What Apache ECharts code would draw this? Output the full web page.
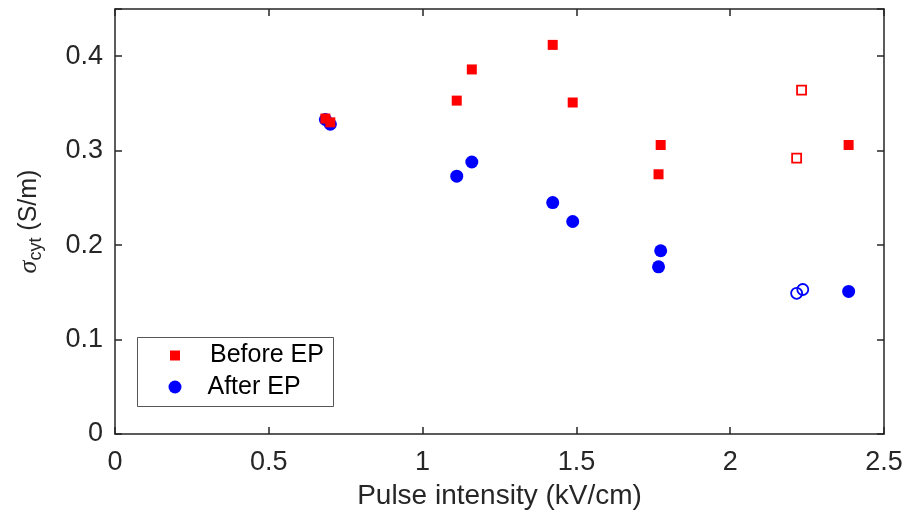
<!DOCTYPE html>
<html>
<head>
<meta charset="utf-8">
<script src="https://cdn.jsdelivr.net/npm/echarts@6/dist/echarts.min.js"></script>
<style>html,body{margin:0;padding:0;background:#fff;}#c{width:907px;height:515px;}</style>
</head>
<body>
<div id="c"></div>
<script>
// Data
const beforeFilled = [[0.684,0.334],[0.70,0.330],[1.111,0.353],[1.160,0.386],[1.423,0.412],[1.488,0.351],[1.774,0.306],[1.767,0.275],[2.385,0.306]];
const beforeOpen = [[2.216,0.292],[2.232,0.364]];
const afterFilled = [[0.684,0.333],[0.70,0.328],[1.111,0.273],[1.160,0.288],[1.423,0.245],[1.488,0.225],[1.774,0.194],[1.767,0.177],[2.385,0.151]];
const afterOpen = [[2.216,0.149],[2.236,0.153]];
const xTicks = {min:0, max:2.5, interval:0.5};
const yTicks = {min:0, max:0.45, interval:0.1, lastLabel:0.4};

const AX = '#262626';
const FONT = 'Liberation Sans, Arial, Helvetica, sans-serif';
const chart = echarts.init(document.getElementById('c'), null, {renderer:'canvas'});
const axisCommon = {
  axisLine:{show:true, onZero:false, lineStyle:{color:AX, width:1.5}},
  axisTick:{show:true, inside:true, length:7, lineStyle:{color:AX, width:1.5}},
  splitLine:{show:false}
};
const fmt = v => String(+v.toFixed(2));
chart.setOption({
  animation:false,
  backgroundColor:'#fff',
  textStyle:{fontFamily:FONT},
  grid:{left:115, right:23, top:9, bottom:80, containLabel:false},
  graphic:[{type:'rect', left:137, top:337, z:3, shape:{width:196, height:69}, style:{fill:'#fff', stroke:'#555', lineWidth:1}}],
  legend:[
    {data:[{name:'Before EP', icon:'rect', itemStyle:{color:'#ff0000'}}],
     left:170, top:343, padding:0, itemWidth:10, itemHeight:10, z:5,
     textStyle:{fontSize:25, color:'#000', fontFamily:FONT, padding:[0,0,0,25]}},
    {data:[{name:'After EP', icon:'circle', itemStyle:{color:'#0000ff'}}],
     left:168.5, top:374.5, padding:0, itemWidth:13, itemHeight:13, z:5,
     textStyle:{fontSize:25, color:'#000', fontFamily:FONT, padding:[0,0,0,21]}}
  ],
  xAxis:[
    Object.assign({type:'value', min:xTicks.min, max:xTicks.max, interval:xTicks.interval, position:'bottom',
      name:'Pulse intensity (kV/cm)', nameLocation:'middle', nameGap:48,
      nameTextStyle:{fontSize:28, color:AX, fontFamily:FONT},
      axisLabel:{fontSize:27, color:AX, margin:15, fontFamily:FONT, formatter:fmt}}, axisCommon),
    Object.assign({type:'value', min:xTicks.min, max:xTicks.max, interval:xTicks.interval, position:'top', axisLabel:{show:false}}, axisCommon)
  ],
  yAxis:[
    Object.assign({type:'value', min:yTicks.min, max:yTicks.max, interval:yTicks.interval, position:'left',
      name:'{s|σ}{sub|cyt} {n|(S/m)}', nameLocation:'middle', nameGap:70, nameRotate:90,
      nameTextStyle:{fontSize:25, color:AX, fontFamily:FONT, rich:{
        s:{fontSize:26, fontStyle:'italic', color:AX, fontFamily:'Liberation Serif, Times New Roman, serif'},
        sub:{fontSize:18, color:AX, fontFamily:FONT, padding:[14,0,0,0]},
        n:{fontSize:25, color:AX, fontFamily:FONT}
      }},
      axisLabel:{fontSize:27, color:AX, margin:12, fontFamily:FONT, formatter:v => v > yTicks.lastLabel + 1e-6 ? '' : fmt(v)}}, axisCommon),
    Object.assign({type:'value', min:yTicks.min, max:yTicks.max, interval:yTicks.interval, position:'right', axisLabel:{show:false}}, axisCommon)
  ],
  series:[
    {name:'After EP', type:'scatter', data:afterFilled, symbol:'circle', symbolSize:13, itemStyle:{color:'#0000ff', opacity:1}},
    {name:'After EP open', type:'scatter', data:afterOpen, symbol:'circle', symbolSize:11, itemStyle:{color:'rgba(0,0,0,0)', borderColor:'#0000ff', borderWidth:1.8, opacity:1}},
    {name:'Before EP', type:'scatter', data:beforeFilled, symbol:'rect', symbolSize:10, itemStyle:{color:'#ff0000', opacity:1}},
    {name:'Before EP open', type:'scatter', data:beforeOpen, symbol:'rect', symbolSize:9, itemStyle:{color:'rgba(0,0,0,0)', borderColor:'#ff0000', borderWidth:1.8, opacity:1}}
  ]
});
</script>
</body>
</html>
